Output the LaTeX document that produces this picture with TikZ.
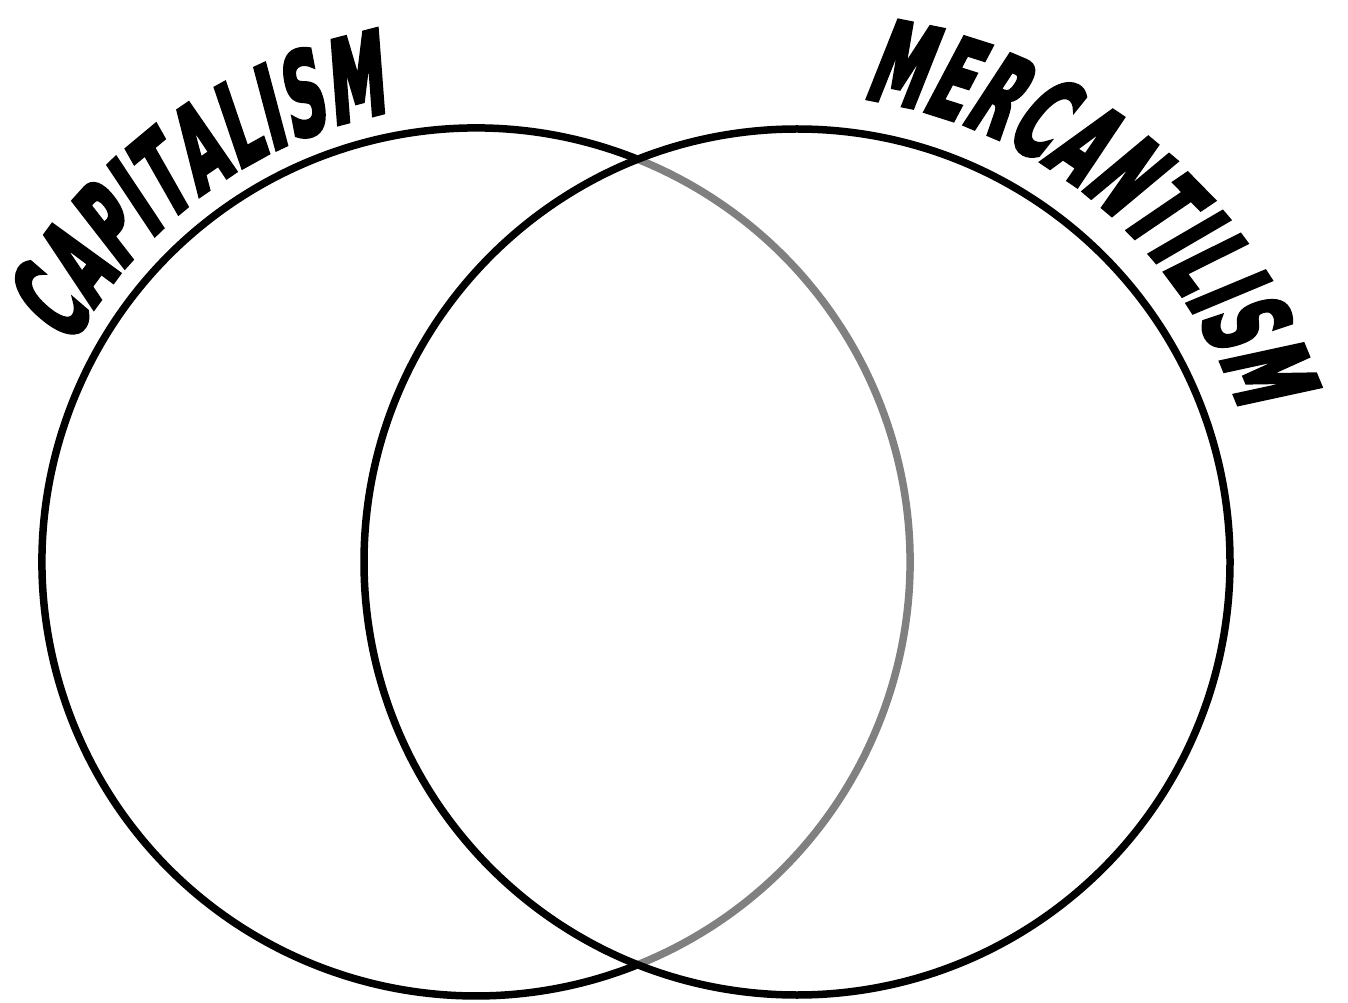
\documentclass[tikz,border=0pt]{standalone}
\usepackage{fontspec}
\usetikzlibrary{decorations.text}
\newfontfamily\bannerfont[FakeStretch=0.5, FakeBold=3, FakeSlant=0.18]{DejaVu Sans Bold}
\definecolor{ringgrey}{HTML}{808080}
\tikzset{
  ring/.style={line width=7.5pt, draw=black},
  greyring/.style={line width=7.5pt, draw=ringgrey},
  banner/.style={decorate, decoration={text along path, text align={fit to path},
     text={|\bannerfont\fontsize{114pt}{114pt}\selectfont|#1}}}
}
\begin{document}
\begin{tikzpicture}[x=1pt,y=1pt]
\useasboundingbox (0,0) rectangle (1348,1002);
\fill[white] (0,0) rectangle (1348,1002);
\coordinate (lc) at (476,440);
\coordinate (rc) at (797,440);
% left circle: grey inner arc, black outer arc
\draw[greyring] ([shift={(-68.4:434)}]lc) arc[start angle=-68.4, end angle=68.4, radius=434];
\draw[ring] ([shift={(68.4:434)}]lc) arc[start angle=68.4, end angle=291.6, radius=434];
% right circle
\draw[ring] (rc) circle[radius=433];
% titles
\path[banner=CAPITALISM] ([shift={(152:458)}]lc) arc[start angle=152, end angle=101, radius=458];
\path[banner=MERCANTILISM] ([shift={(82:468)}]rc) arc[start angle=82, end angle=19, radius=468];
\end{tikzpicture}
\end{document}
